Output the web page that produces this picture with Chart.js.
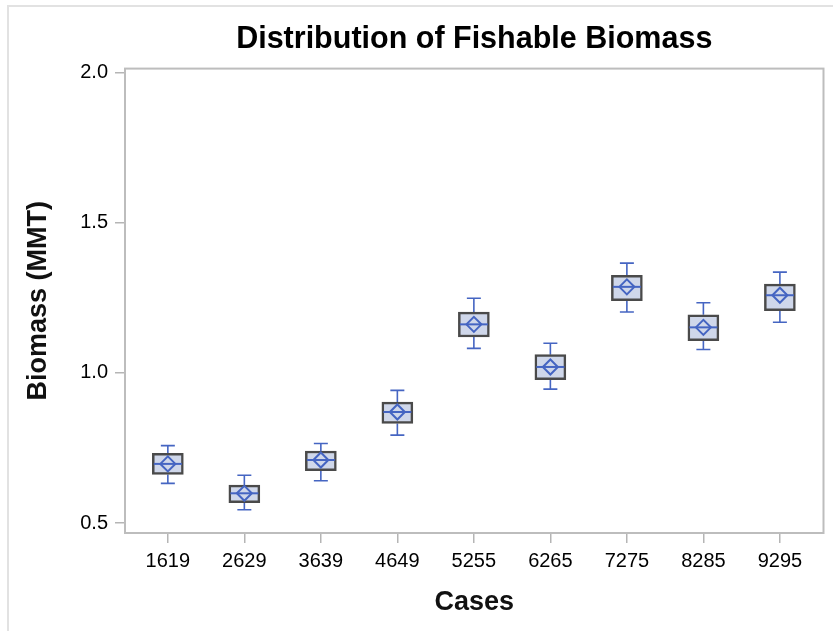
<!DOCTYPE html>
<html>
<head>
<meta charset="utf-8">
<script src="https://cdn.jsdelivr.net/npm/chart.js@4"></script>
<style>
  body { margin: 0; background: #fff; }
  #wrap { position: relative; width: 833px; height: 631px; overflow: hidden; }
  #edge { position: absolute; left: 7px; top: 5px; width: 900px; height: 700px; border: 2px solid #e2e2e2; }
  #biomassChart { position: absolute; left: 0; top: 0; }
</style>
</head>
<body>
<div id="wrap">
  <div id="edge"></div>
  <canvas id="biomassChart" width="833" height="631"></canvas>
</div>
<script>
const cases = ['1619', '2629', '3639', '4649', '5255', '6265', '7275', '8285', '9295'];
const mins = [0.632, 0.544, 0.641, 0.793, 1.082, 0.946, 1.203, 1.078, 1.169];
const q1 = [0.662, 0.568, 0.674, 0.832, 1.120, 0.978, 1.241, 1.108, 1.208];
const medians = [0.697, 0.599, 0.710, 0.870, 1.162, 1.020, 1.287, 1.152, 1.259];
const q3 = [0.732, 0.626, 0.740, 0.903, 1.203, 1.061, 1.325, 1.194, 1.296];
const maxs = [0.758, 0.659, 0.765, 0.942, 1.249, 1.099, 1.366, 1.234, 1.336];
const means = [0.697, 0.599, 0.710, 0.870, 1.162, 1.020, 1.287, 1.152, 1.259];
const yTicks = [0.5, 1.0, 1.5, 2.0];

const BLUE = '#4565c2';
const BOX_FILL = '#cfd7ea';

// whiskers + medians, drawn through the chart scales
const boxParts = {
    id: 'boxParts',
    beforeDatasetsDraw(chart) {
        const {ctx, scales: {x, y}} = chart;
        ctx.save();
        ctx.strokeStyle = BLUE;
        ctx.lineWidth = 1.6;
        cases.forEach((c, i) => {
            const px = x.getPixelForValue(i + 1);
            ctx.beginPath();
            ctx.moveTo(px, y.getPixelForValue(maxs[i]));
            ctx.lineTo(px, y.getPixelForValue(q3[i]));
            ctx.moveTo(px, y.getPixelForValue(q1[i]));
            ctx.lineTo(px, y.getPixelForValue(mins[i]));
            ctx.moveTo(px - 7, y.getPixelForValue(maxs[i]));
            ctx.lineTo(px + 7, y.getPixelForValue(maxs[i]));
            ctx.moveTo(px - 7, y.getPixelForValue(mins[i]));
            ctx.lineTo(px + 7, y.getPixelForValue(mins[i]));
            ctx.stroke();
        });
        ctx.restore();
    },
    afterDatasetsDraw(chart) {
        const {ctx, scales: {x, y}} = chart;
        ctx.save();
        ctx.strokeStyle = BLUE;
        ctx.lineWidth = 2;
        cases.forEach((c, i) => {
            const px = x.getPixelForValue(i + 1);
            const py = y.getPixelForValue(medians[i]);
            ctx.beginPath();
            ctx.moveTo(px - 14, py);
            ctx.lineTo(px + 14, py);
            ctx.stroke();
        });
        // frame round the plot area
        const a = chart.chartArea;
        ctx.strokeStyle = '#bdbdbd';
        ctx.lineWidth = 2;
        ctx.strokeRect(a.left, a.top, a.right - a.left, a.bottom - a.top);
        ctx.restore();
    }
};

window.onload = () => {
    const ctx = document.getElementById('biomassChart').getContext('2d');
    new Chart(ctx, {
        type: 'bar',
        data: {
            datasets: [{
                type: 'scatter',
                data: cases.map((c, i) => ({x: i + 1, y: means[i]})),
                showLine: false,
                pointStyle: 'rectRot',
                pointRadius: 7.5,
                pointBorderWidth: 2,
                pointBorderColor: BLUE,
                pointBackgroundColor: BOX_FILL,
                order: 0
            }, {
                type: 'bar',
                data: cases.map((c, i) => ({x: i + 1, y: [q1[i], q3[i]]})),
                backgroundColor: BOX_FILL,
                borderColor: '#4a4a4a',
                borderWidth: 2.5,
                borderSkipped: false,
                barThickness: 31,
                order: 1
            }]
        },
        options: {
            responsive: false,
            animation: false,
            layout: { padding: { right: 4 } },
            plugins: {
                legend: { display: false },
                tooltip: { enabled: false },
                title: {
                    display: true,
                    text: 'Distribution of Fishable Biomass',
                    fullSize: false,
                    color: '#000',
                    font: { family: 'Liberation Sans, Arial', size: 30.5, weight: 'bold' },
                    padding: { top: 21, bottom: 11 }
                }
            },
            scales: {
                x: {
                    type: 'linear',
                    offset: false,
                    min: 0.44,
                    max: 9.57,
                    afterBuildTicks: s => { s.ticks = cases.map((c, i) => ({value: i + 1})); },
                    afterFit: s => { s.height = 98; },
                    ticks: {
                        autoSkip: false,
                        maxRotation: 0,
                        padding: 6,
                        color: '#000',
                        font: { family: 'Liberation Sans, Arial', size: 20 },
                        callback: v => cases[v - 1]
                    },
                    grid: { offset: false, drawOnChartArea: false, tickLength: 10, color: '#b5b5b5', lineWidth: 1.5 },
                    border: { display: false },
                    title: {
                        display: true,
                        text: 'Cases',
                        color: '#111',
                        font: { family: 'Liberation Sans, Arial', size: 27, weight: 'bold' },
                        padding: { top: 0, bottom: 12 }
                    }
                },
                y: {
                    min: 0.4667,
                    max: 2.0143,
                    afterBuildTicks: s => { s.ticks = yTicks.map(v => ({value: v})); },
                    afterFit: s => { s.width = 125; },
                    ticks: {
                        padding: 7,
                        color: '#000',
                        font: { family: 'Liberation Sans, Arial', size: 20 },
                        callback: v => v.toFixed(1)
                    },
                    grid: { drawOnChartArea: false, tickLength: 10, color: '#b5b5b5', lineWidth: 1.5 },
                    border: { display: false },
                    title: {
                        display: true,
                        text: 'Biomass (MMT)',
                        color: '#111',
                        font: { family: 'Liberation Sans, Arial', size: 27, weight: 'bold' },
                        padding: { top: 22, bottom: 0 }
                    }
                }
            }
        },
        plugins: [boxParts]
    });
};
</script>
</body>
</html>
